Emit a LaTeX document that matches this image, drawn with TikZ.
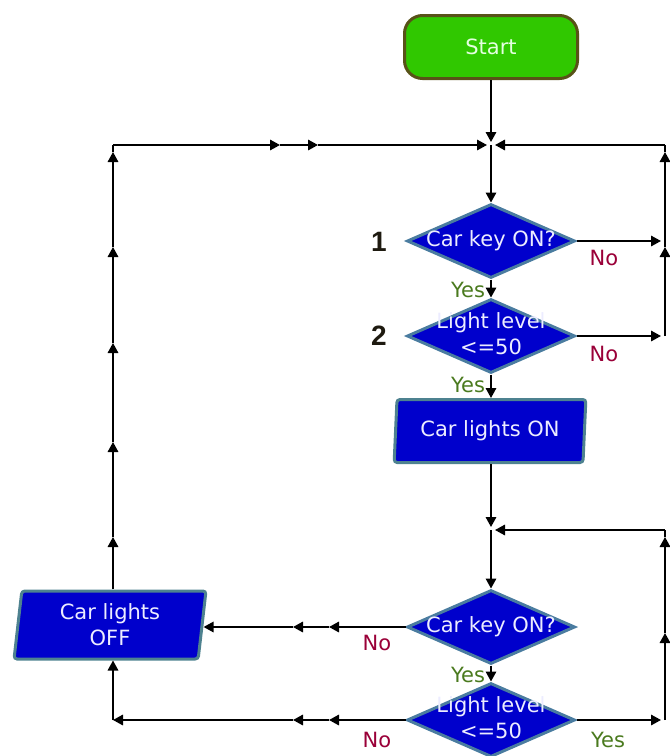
\documentclass[tikz,border=0pt]{standalone}
\usepackage{fontspec}
\setmainfont{DejaVu Sans}
\newfontfamily\numfont{Liberation Sans}
\usetikzlibrary{arrows.meta,shapes.geometric,calc}
\definecolor{dblue}{HTML}{0000CC}
\definecolor{dborder}{HTML}{4A7CA0}
\definecolor{pborder}{HTML}{4E8290}
\definecolor{dtext}{HTML}{ECECFF}
\definecolor{sgreen}{HTML}{30C800}
\definecolor{sborder}{HTML}{585218}
\definecolor{stext}{HTML}{E4FFE0}
\definecolor{yescol}{HTML}{4A7A1E}
\definecolor{nocol}{HTML}{9A0038}
\definecolor{numcol}{HTML}{1E1A10}
\begin{document}
\begin{tikzpicture}[x=1pt,y=-1pt,
  font=\fontsize{21}{26}\selectfont,
  ln/.style={line width=1.7pt, draw=black},
  arr/.style={ln, -{Triangle[length=10pt,width=10.5pt]}},
  dia/.style={diamond, draw=dborder, line width=3pt, fill=dblue, text=dtext,
    minimum width=168pt, minimum height=74pt, inner sep=0pt},
  io/.style={trapezium, trapezium left angle=84, trapezium right angle=96,
    trapezium stretches=true, draw=pborder, line width=3pt, fill=dblue,
    rounded corners=3pt, minimum width=192pt, text=dtext, align=center, inner sep=0pt},
  startbox/.style={rectangle, rounded corners=18pt, draw=sborder, line width=3pt,
    fill=sgreen, text=stext, minimum width=173pt, minimum height=63pt},
  yeslab/.style={text=yescol},
  nolab/.style={text=nocol},
  numlab/.style={text=numcol, font=\numfont\bfseries\fontsize{28}{30}\selectfont}
]
\useasboundingbox (0,0) rectangle (670,756);

% nodes
\node[startbox] (start) at (491,47) {Start};
\node[dia] (d1) at (491,241) {\makebox[0pt]{Car key ON?}};
\node[dia] (d2) at (491,336) {\makebox[0pt]{\begin{tabular}{@{}c@{}}Light level\\<=50\end{tabular}}};
\node[io, minimum height=63pt] (on) at (490,431) {Car lights ON};
\node[dia] (d3) at (491,627) {\makebox[0pt]{Car key ON?}};
\node[dia] (d4) at (491,720) {\makebox[0pt]{\begin{tabular}{@{}c@{}}Light level\\<=50\end{tabular}}};
\node[io, minimum height=68pt] (off) at (110,625) {Car lights\\OFF};

% junctions and corners
\coordinate (J1) at (491,145);
\coordinate (TR) at (665,145);
\coordinate (TL) at (113,145);
\coordinate (J2) at (491,530);
\coordinate (BR) at (665,530);
\coordinate (BL) at (113,720);
\coordinate (ra1) at (665,247);
\coordinate (ra2) at (665,152);
\coordinate (rb1) at (665,633);
\coordinate (rb2) at (665,537);
\coordinate (la1) at (113,537);
\coordinate (la2) at (113,442);
\coordinate (la3) at (113,343);
\coordinate (la4) at (113,247);
\coordinate (la5) at (113,152);
\coordinate (ta1) at (280,145);
\coordinate (ta2) at (318,145);
\coordinate (ma1) at (329,627);
\coordinate (ma2) at (293,627);
\coordinate (ba1) at (329,720);
\coordinate (ba2) at (293,720);

% main flow
\draw[arr, shorten >=3pt] (start.south) -- (J1);
\draw[arr] (J1) -- (d1.north);
\draw[arr] (d1.south) -- (d2.north);
\draw[arr] (d2.south) -- (on.north -| d2.south);
\draw[arr, shorten >=3pt] (on.south -| J2) -- (J2);
\draw[arr] (J2) -- (d3.north);
\draw[arr] (d3.south) -- (d4.north);

% right loop (top)
\draw[arr, shorten >=4pt] (d1.east) -- (d1.east -| TR);
\draw[arr, shorten >=4pt] (d2.east) -- (d2.east -| TR);
\draw[arr] (d2.east -| TR) -- (ra1);
\draw[arr] (ra1) -- (ra2);
\draw[ln] (ra2) -- (TR);
\draw[arr, shorten >=4pt] (TR) -- (J1);

% right loop (bottom)
\draw[arr, shorten >=4pt] (d4.east) -- (d4.east -| BR);
\draw[arr] (d4.east -| BR) -- (rb1);
\draw[arr] (rb1) -- (rb2);
\draw[ln] (rb2) -- (BR);
\draw[arr, shorten >=4pt] (BR) -- (J2);

% to car lights off
\draw[arr] (d3.west) -- (ma1);
\draw[arr] (ma1) -- (ma2);
\draw[arr] (ma2) -- (ma2 -| off.east);
\draw[arr] (d4.west) -- (ba1);
\draw[arr] (ba1) -- (ba2);
\draw[arr] (ba2) -- (BL);
\draw[arr] (BL) -- (BL |- off.south);

% left loop back to top
\draw[arr] (TL |- off.north) -- (la1);
\draw[arr] (la1) -- (la2);
\draw[arr] (la2) -- (la3);
\draw[arr] (la3) -- (la4);
\draw[arr] (la4) -- (la5);
\draw[ln] (la5) -- (TL);
\draw[arr] (TL) -- (ta1);
\draw[arr] (ta1) -- (ta2);
\draw[arr, shorten >=4pt] (ta2) -- (J1);

% labels
\node[numlab] (n1) at (379,242) {1};
\node[numlab] (n2) at (379,336) {2};
\node[yeslab] (y1) at (468,290) {Yes};
\node[nolab] (no1) at (604,258) {No};
\node[yeslab] (y2) at (468,385) {Yes};
\node[nolab] (no2) at (604,354) {No};
\node[nolab] (no3) at (377,643) {No};
\node[yeslab] (y3) at (468,675) {Yes};
\node[nolab] (no4) at (377,740) {No};
\node[yeslab] (y4) at (608,740) {Yes};
\end{tikzpicture}
\end{document}
